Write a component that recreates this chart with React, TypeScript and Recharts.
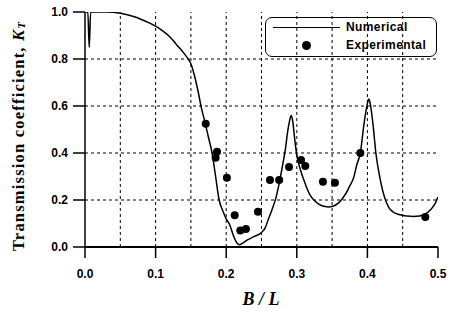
import {
  ComposedChart,
  Line,
  Scatter,
  XAxis,
  YAxis,
  ReferenceLine,
  Legend,
  Label,
} from "recharts";

// numerical curve
const numX = [
  0, 0.004, 0.006, 0.008, 0.03, 0.05, 0.07, 0.09, 0.1, 0.11, 0.12, 0.13, 0.14, 0.145,
  0.15, 0.155, 0.16, 0.165, 0.17, 0.175, 0.18, 0.185, 0.19, 0.195, 0.2, 0.205, 0.21,
  0.215, 0.219, 0.225, 0.23, 0.24, 0.25, 0.255, 0.26, 0.265, 0.27, 0.275, 0.28, 0.284,
  0.287, 0.29, 0.292, 0.294, 0.297, 0.3, 0.305, 0.31, 0.315, 0.32, 0.33, 0.34, 0.345,
  0.35, 0.36, 0.37, 0.375, 0.38, 0.385, 0.39, 0.395, 0.4, 0.402, 0.404, 0.408, 0.412,
  0.418, 0.425, 0.43, 0.436, 0.445, 0.456, 0.465, 0.474, 0.482, 0.489, 0.495, 0.5,
];
const numY = [
  1.0, 1.0, 0.85, 1.0, 1.0, 0.995, 0.98, 0.955, 0.94, 0.92, 0.895, 0.86, 0.825, 0.805,
  0.78, 0.73, 0.665, 0.59, 0.53, 0.465, 0.4, 0.3, 0.2, 0.155, 0.12, 0.095, 0.05,
  0.018, 0.01, 0.02, 0.03, 0.045, 0.062, 0.08, 0.12, 0.16, 0.205, 0.27, 0.35, 0.42,
  0.49, 0.54, 0.56, 0.54, 0.46, 0.39, 0.33, 0.285, 0.245, 0.215, 0.185, 0.172, 0.17,
  0.172, 0.19, 0.23, 0.26, 0.29, 0.35, 0.4, 0.52, 0.61, 0.63, 0.61, 0.52, 0.4,
  0.29, 0.205, 0.17, 0.15, 0.138, 0.132, 0.13, 0.132, 0.14, 0.157, 0.18, 0.213,
];

// experimental points
const expX = [
  0.171, 0.187, 0.185, 0.201, 0.212, 0.22, 0.228, 0.245, 0.262, 0.275, 0.289, 0.306,
  0.312, 0.337, 0.354, 0.39, 0.482,
];
const expY = [
  0.525, 0.405, 0.38, 0.295, 0.135, 0.07, 0.077, 0.15, 0.285, 0.285, 0.34, 0.37,
  0.345, 0.278, 0.273, 0.4, 0.128,
];

const xTicks = [0, 0.1, 0.2, 0.3, 0.4, 0.5];
const yTicks = [0, 0.2, 0.4, 0.6, 0.8, 1.0];
const gridX = [0.05, 0.1, 0.15, 0.2, 0.25, 0.3, 0.35, 0.4, 0.45];
const gridY = [0.2, 0.4, 0.6, 0.8];

const numerical = numX.map((x, i) => ({ x, y: numY[i] }));
const experimental = expX.map((x, i) => ({ x, y: expY[i] }));

const sans = "'Liberation Sans', Arial, sans-serif";
const serif = "'Liberation Serif', 'Times New Roman', serif";

const tickStyle = { fontSize: 12, fontWeight: 700, fill: "#000", fontFamily: sans };

const YTitle = () => (
  <text
    x={18}
    y={136}
    transform="rotate(-90, 18, 136)"
    textAnchor="middle"
    dominantBaseline="central"
    fontFamily={serif}
    fontWeight={700}
    fontSize={16.5}
    letterSpacing={1.2}
    fill="#000"
  >
    Transmission coefficient,{" "}
    <tspan fontStyle="italic">K</tspan>
    <tspan fontStyle="italic" fontSize={11} dy={3}>T</tspan>
  </text>
);

const XTitle = () => (
  <text
    x={261}
    y={305}
    textAnchor="middle"
    fontFamily={serif}
    fontWeight={700}
    fontStyle="italic"
    fontSize={18}
    fill="#000"
  >
    B / L
  </text>
);

const LegendBox = () => (
  <div
    style={{
      position: "relative",
      width: 172,
      height: 40,
      border: "1.5px solid #000",
      borderRadius: 7,
      boxSizing: "border-box",
      fontFamily: sans,
      fontWeight: 700,
      fontSize: 12,
      letterSpacing: 0.4,
      color: "#000",
    }}
  >
    <div style={{ position: "absolute", left: 7, top: 9, width: 67, borderTop: "1.5px solid #000" }} />
    <div style={{ position: "absolute", left: 80, top: 1, lineHeight: "16px" }}>Numerical</div>
    <div
      style={{
        position: "absolute",
        left: 36,
        top: 23,
        width: 9,
        height: 9,
        borderRadius: "50%",
        background: "#000",
      }}
    />
    <div style={{ position: "absolute", left: 80, top: 19, lineHeight: "16px" }}>Experimental</div>
  </div>
);

export default function App() {
  return (
    <div style={{ position: "absolute", left: 0, top: 0, background: "#fff" }}>
      <ComposedChart
        width={453}
        height={311}
        margin={{ top: 12, right: 15, bottom: 0, left: 0 }}
      >
        <XAxis
          dataKey="x"
          type="number"
          domain={[0, 0.5]}
          ticks={xTicks}
          tickFormatter={(v: number) => v.toFixed(1)}
          tick={tickStyle}
          tickSize={11}
          tickMargin={11}
          height={64}
          allowDataOverflow
          axisLine={{ stroke: "#000", strokeWidth: 2 }}
          tickLine={{ stroke: "#000", strokeWidth: 1.5 }}
        >
          <Label content={<XTitle />} />
        </XAxis>
        <XAxis
          xAxisId="top"
          orientation="top"
          type="number"
          domain={[0, 0.5]}
          height={0}
          tick={false}
          tickLine={false}
          axisLine={{ stroke: "#000", strokeWidth: 2 }}
        />
        <YAxis
          type="number"
          domain={[0, 1]}
          ticks={yTicks}
          tickFormatter={(v: number) => v.toFixed(1)}
          tick={tickStyle}
          tickSize={12}
          tickMargin={5}
          width={85}
          allowDataOverflow
          axisLine={{ stroke: "#000", strokeWidth: 1.5 }}
          tickLine={{ stroke: "#000", strokeWidth: 1.5 }}
        >
          <Label content={<YTitle />} />
        </YAxis>
        <YAxis
          yAxisId="right"
          orientation="right"
          type="number"
          domain={[0, 1]}
          width={0}
          tick={false}
          tickLine={false}
          axisLine={{ stroke: "#000", strokeWidth: 1.5 }}
        />
        {gridX.map((v) => (
          <ReferenceLine key={"gx" + v} x={v} stroke="#000" strokeWidth={1} strokeDasharray="3 3" />
        ))}
        {gridY.map((v) => (
          <ReferenceLine key={"gy" + v} y={v} stroke="#000" strokeWidth={1} strokeDasharray="3 3" />
        ))}
        <Line
          data={numerical}
          dataKey="y"
          type="monotone"
          stroke="#000"
          strokeWidth={1.5}
          dot={false}
          activeDot={false}
          isAnimationActive={false}
          name="Numerical"
        />
        <Scatter
          data={experimental}
          dataKey="y"
          fill="#000"
          shape={(p: any) => <circle cx={p.cx} cy={p.cy} r={4} fill="#000" />}
          isAnimationActive={false}
          name="Experimental"
        />
        <Legend
          verticalAlign="middle"
          align="center"
          layout="horizontal"
          content={() => <LegendBox />}
          wrapperStyle={{ left: 265, top: 17, width: 172, height: 40 }}
        />
      </ComposedChart>
    </div>
  );
}
